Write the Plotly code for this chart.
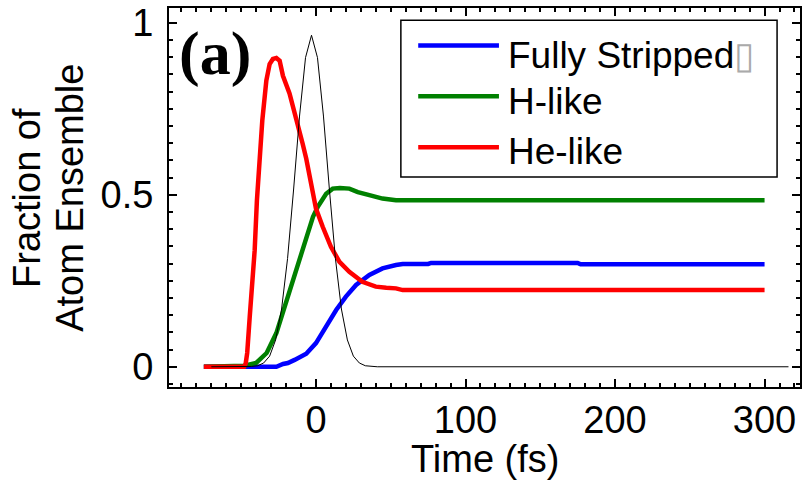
import plotly.graph_objects as go

# Population of each ionisation stage versus time (fs)
t_fully = [-75, -26.5, -22, -18.8, -14.3, -6.5, 0, 6.8, 13.5, 20, 26.8, 35.7, 44.5,
           53.5, 58, 75, 77, 175, 177, 300]
frac_fully = [0, 0, 0.008, 0.011, 0.02, 0.038, 0.069, 0.117, 0.165, 0.204, 0.238, 0.267,
              0.286, 0.296, 0.299, 0.299, 0.302, 0.302, 0.298, 0.298]

t_hlike = [-75, -48, -40, -33, -26.5, -21, -15.5, -10, -4.3, -2, 1.2, 6.8, 11.2, 16,
           22.3, 28, 35.7, 44.5, 53.5, 300]
frac_hlike = [0, 0.003, 0.011, 0.04, 0.098, 0.175, 0.243, 0.32, 0.402, 0.436, 0.465,
              0.503, 0.518, 0.52, 0.518, 0.508, 0.499, 0.489, 0.484, 0.484]

t_helike = [-75, -48, -47, -46, -44.3, -41, -39.5, -37.7, -35.9, -33.2, -31, -28.8,
            -26.5, -24.3, -23.2, -22.1, -17.7, -13.2, -9, -6.5, -3.2, 0, 4.5, 10,
            15.7, 22.3, 31, 40, 47, 53.5, 58, 300]
frac_helike = [0, 0, 0.01, 0.04, 0.146, 0.339, 0.484, 0.629, 0.716, 0.832, 0.88, 0.895,
               0.898, 0.89, 0.87, 0.846, 0.795, 0.725, 0.65, 0.605, 0.535, 0.46, 0.407,
               0.349, 0.305, 0.276, 0.247, 0.233, 0.23, 0.228, 0.223, 0.223]

# Laser pulse intensity envelope (arb. units)
t_pulse = [-70, -47, -43, -39, -35, -31, -27, -23, -19, -15, -11, -7, -3, 1, 5, 9, 13,
           17, 21, 25, 29, 33, 37, 41, 316]
pulse = [0, 0, 0.001, 0.003, 0.011, 0.031, 0.078, 0.168, 0.315, 0.514, 0.729, 0.899,
         0.964, 0.899, 0.729, 0.514, 0.315, 0.168, 0.078, 0.031, 0.011, 0.003, 0.001,
         0, 0]

series_names = ["Fully Stripped", "H-like", "He-like"]
series_colors = ["#0000ff", "#008000", "#ff0000"]
x_ticks = [-100, 0, 100, 200, 300]
y_ticks = [0, 0.5, 1]
y_ticktext = ["0", "0.5", "1"]

SANS = "Liberation Sans, Arial, sans-serif"
W, H = 804, 480
ML, MR, MT, MB = 169, 2, 7, 93

fig = go.Figure()
for t, v, name, color in zip([t_fully, t_hlike, t_helike],
                             [frac_fully, frac_hlike, frac_helike],
                             series_names, series_colors):
    fig.add_trace(go.Scatter(x=t, y=v, mode="lines", name=name,
                             line=dict(color=color, width=4.5)))
fig.add_trace(go.Scatter(x=t_pulse, y=pulse, mode="lines", name="pulse",
                         line=dict(color="black", width=1)))

axis_common = dict(
    showgrid=False, zeroline=False, showline=True, linecolor="black", linewidth=2,
    mirror="allticks", ticks="inside", ticklen=8, tickwidth=2, tickcolor="black",
    tickfont=dict(family=SANS, size=38, color="black"),
)
fig.update_xaxes(range=[-98.3, 323.7], tickmode="array", tickvals=x_ticks,
                 ticklabelstandoff=-2,
                 minor=dict(dtick=10, ticks="inside", ticklen=4, tickwidth=1.5,
                            tickcolor="black"),
                 **axis_common)
fig.update_yaxes(range=[-0.0588, 1.0432], tickmode="array", tickvals=y_ticks,
                 ticktext=y_ticktext, ticklabelstandoff=6,
                 minor=dict(dtick=0.05, ticks="inside", ticklen=4, tickwidth=1.5,
                            tickcolor="black"),
                 **axis_common)

pw, ph = W - ML - MR, H - MT - MB


def px_x(px):
    return (px - ML) / pw


def px_y(py):
    return (H - MB - py) / ph


annotations = [
    dict(text="(a)", x=px_x(215), y=px_y(53), xanchor="center", yanchor="middle",
         font=dict(family="Liberation Serif, Times New Roman, serif", size=62,
                   color="black", weight="bold")),
    dict(text="Fraction of", x=px_x(26), y=0.5, textangle=-90,
         xanchor="center", yanchor="middle",
         font=dict(family=SANS, size=38, color="black")),
    dict(text="Atom Ensemble", x=px_x(69), y=0.5, textangle=-90,
         xanchor="center", yanchor="middle",
         font=dict(family=SANS, size=38, color="black")),
    dict(text="Time (fs)", x=0.5, y=px_y(459), xanchor="center", yanchor="middle",
         font=dict(family=SANS, size=38, color="black")),
]

# Legend box drawn by hand so the line samples can be long
shapes = [dict(type="rect", xref="paper", yref="paper",
               x0=px_x(401.6), x1=px_x(779), y0=px_y(176.5), y1=px_y(19.4),
               line=dict(color="black", width=1.5), fillcolor="white", layer="above")]
legend_line_y = [44.5, 95.5, 146.5]
legend_text_y = [55, 101, 151]
legend_labels = [series_names[0] + "<span style='color:#aaa'>▯</span>",
                 series_names[1], series_names[2]]
for ly, ty, label, color in zip(legend_line_y, legend_text_y, legend_labels, series_colors):
    shapes.append(dict(type="line", xref="paper", yref="paper",
                       x0=px_x(419), x1=px_x(500), y0=px_y(ly), y1=px_y(ly),
                       line=dict(color=color, width=4.5), layer="above"))
    annotations.append(dict(text=label, x=px_x(507), y=px_y(ty), xanchor="left",
                            yanchor="middle", showarrow=False,
                            font=dict(family=SANS, size=37, color="black")))

for a in annotations:
    a.setdefault("xref", "paper")
    a.setdefault("yref", "paper")
    a.setdefault("showarrow", False)

fig.update_layout(
    width=W, height=H, margin=dict(l=ML, r=MR, t=MT, b=MB),
    paper_bgcolor="white", plot_bgcolor="white", showlegend=False,
    annotations=annotations, shapes=shapes,
)

fig.write_html("out.html")
